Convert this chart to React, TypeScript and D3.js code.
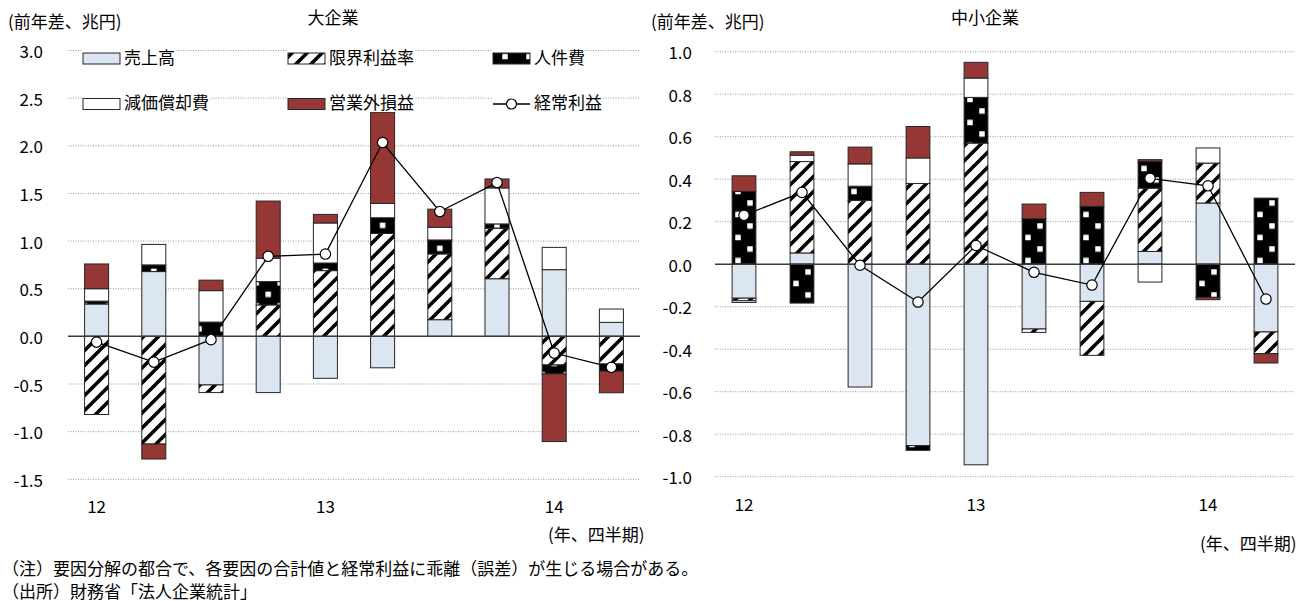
import React, { useEffect, useRef } from 'react';
import * as d3 from 'd3';

// Quarters 2012Q1 – 2014Q2
const quarters = ['12Q1', '12Q2', '12Q3', '12Q4', '13Q1', '13Q2', '13Q3', '13Q4', '14Q1', '14Q2'];
const yearTickIndex = [0, 4, 8];
const yearTickText = ['12', '13', '14'];

const seriesKeys = ['sales', 'margin', 'personnel', 'depreciation', 'nonop'];
const seriesNames = ['売上高', '限界利益率', '人件費', '減価償却費', '営業外損益'];
const lineName = '経常利益';

// 大企業 (前年差、兆円)
const largeSales = [0.34, 0.68, -0.51, -0.59, -0.44, -0.33, 0.175, 0.605, 0.7, 0.147];
const largeMargin = [-0.82, -1.13, -0.08, 0.33, 0.69, 1.08, 0.69, 0.53, -0.3, -0.29];
const largePersonnel = [0.03, 0.07, 0.15, 0.245, 0.08, 0.165, 0.147, 0.045, -0.094, -0.075];
const largeDepreciation = [0.13, 0.215, 0.33, 0.245, 0.42, 0.15, 0.133, 0.378, 0.234, 0.14];
const largeNonop = [0.26, -0.157, 0.11, 0.6, 0.09, 0.957, 0.19, 0.094, -0.71, -0.227];
const largeOrdinary = [-0.06, -0.27, -0.035, 0.84, 0.864, 2.034, 1.31, 1.614, -0.175, -0.325];

// 中小企業 (前年差、兆円)
const smeSales = [-0.16, 0.053, -0.578, -0.854, -0.944, -0.305, -0.175, 0.06, 0.288, -0.319];
const smeMargin = [-0.012, 0.43, 0.3, 0.38, 0.57, -0.016, -0.254, 0.298, 0.188, -0.102];
const smePersonnel = [0.343, -0.183, 0.067, -0.022, 0.215, 0.214, 0.272, 0.126, -0.156, 0.311];
const smeDepreciation = [-0.008, 0.03, 0.105, 0.12, 0.091, 0, 0, -0.084, 0.071, 0];
const smeNonop = [0.073, 0.016, 0.079, 0.148, 0.074, 0.069, 0.066, 0.008, -0.011, -0.044];
const smeOrdinary = [0.23, 0.338, -0.005, -0.178, 0.088, -0.038, -0.098, 0.404, 0.369, -0.164];

const largeTicks = [3.0, 2.5, 2.0, 1.5, 1.0, 0.5, 0.0, -0.5, -1.0, -1.5];
const smeTicks = [1.0, 0.8, 0.6, 0.4, 0.2, 0.0, -0.2, -0.4, -0.6, -0.8, -1.0];

const unitText = '(前年差、兆円)';
const periodText = '(年、四半期)';
const noteText = '（注）要因分解の都合で、各要因の合計値と経常利益に乖離（誤差）が生じる場合がある。';
const sourceText = '（出所）財務省「法人企業統計」';

const FONT = "'Noto Sans CJK JP', 'Noto Sans', sans-serif";
const FS = 17;
const BLUE = '#DCE6F2';
const RED = '#953735';
const EDGE = '#262626';
const HATCH = 15;

type Panel = {
  id: string;
  title: string;
  titleX: number;
  unitX: number;
  values: number[][];
  ordinary: number[];
  ticks: number[];
  yDomain: [number, number];
  yRange: [number, number];
  xRange: [number, number];
  paddingInner: number;
  tickRight: number;
  yearY: number;
  periodX: number;
  periodY: number;
  sqDx: number;
  sqDy: number;
};

const panels: Panel[] = [
  {
    id: 'large', title: '大企業', titleX: 333, unitX: 8,
    values: [largeSales, largeMargin, largePersonnel, largeDepreciation, largeNonop],
    ordinary: largeOrdinary, ticks: largeTicks,
    yDomain: [-1.5, 3.0], yRange: [479.3, 50.5], xRange: [68, 640], paddingInner: 0.58,
    tickRight: 43, yearY: 505, periodX: 548, periodY: 533, sqDx: 0, sqDy: 4,
  },
  {
    id: 'sme', title: '中小企業', titleX: 985, unitX: 651,
    values: [smeSales, smeMargin, smePersonnel, smeDepreciation, smeNonop],
    ordinary: smeOrdinary, ticks: smeTicks,
    yDomain: [-1.0, 1.0], yRange: [476.7, 51.7], xRange: [715, 1295], paddingInner: 0.59,
    tickRight: 692, yearY: 503, periodX: 1200, periodY: 542, sqDx: 6, sqDy: -15.2,
  },
];

type Sel = d3.Selection<any, any, any, any>;

// black tile with staggered white squares, anchored on a given point
function squaresPattern(defs: Sel, id: string, cx: number, cy: number, dx: number) {
  const w = 24, h = 23, s = 5.5;
  const p = defs.append('pattern').attr('id', id).attr('patternUnits', 'userSpaceOnUse')
    .attr('x', cx - 12).attr('y', cy - 5.75).attr('width', w).attr('height', h);
  p.append('rect').attr('width', w).attr('height', h).attr('fill', '#000');
  const ax = 12 + dx;
  const bx = ax - 12;
  [ax - 24, ax, ax + 24].forEach((x) =>
    p.append('rect').attr('x', x - s / 2).attr('y', 5.75 - s / 2).attr('width', s).attr('height', s).attr('fill', '#fff'));
  [bx - 24, bx, bx + 24].forEach((x) =>
    p.append('rect').attr('x', x - s / 2).attr('y', 17.25 - s / 2).attr('width', s).attr('height', s).attr('fill', '#fff'));
}

function drawPanel(svg: Sel, defs: Sel, cfg: Panel) {
  const x = d3.scaleBand<string>().domain(quarters).range(cfg.xRange)
    .paddingInner(cfg.paddingInner).paddingOuter(cfg.paddingInner / 2);
  const y = d3.scaleLinear().domain(cfg.yDomain).range(cfg.yRange);
  const bw = x.bandwidth();
  const cx = (q: string) => (x(q) as number) + bw / 2;
  const y0 = y(0);

  const rows = quarters.map((q, i) => {
    const r: any = { q };
    seriesKeys.forEach((k, j) => { r[k] = cfg.values[j][i]; });
    return r;
  });
  const stacked = d3.stack<any>().keys(seriesKeys).offset(d3.stackOffsetDiverging)(rows);

  quarters.forEach((q, i) => squaresPattern(defs, `pers-${cfg.id}-${i}`, cx(q), y0 + cfg.sqDy, cfg.sqDx));

  const g = svg.append('g');

  // gridlines
  g.selectAll('line.grid').data(cfg.ticks.filter((t) => t !== 0)).enter().append('line')
    .attr('x1', cfg.xRange[0]).attr('x2', cfg.xRange[1])
    .attr('y1', (t) => y(t)).attr('y2', (t) => y(t))
    .attr('stroke', '#9a9a9a').attr('stroke-width', 1).attr('stroke-dasharray', '1 1.5');

  // tick labels
  g.selectAll('text.tick').data(cfg.ticks).enter().append('text')
    .attr('x', cfg.tickRight).attr('y', (t) => y(t))
    .attr('text-anchor', 'end').attr('dominant-baseline', 'central')
    .attr('font-family', FONT).attr('font-size', FS).attr('fill', '#000')
    .text((t) => d3.format('.1f')(t).replace('−', '-'));

  // stacked bars
  const fills = [
    () => BLUE,
    () => 'url(#hatch)',
    (i: number) => `url(#pers-${cfg.id}-${i})`,
    () => '#fff',
    () => RED,
  ];
  stacked.forEach((series, k) => {
    g.append('g').selectAll('rect').data(series.map((d, i) => ({ d, i })).filter((o) => o.d[1] !== o.d[0]))
      .enter().append('rect')
      .attr('x', (o) => x(quarters[o.i]) as number)
      .attr('width', bw)
      .attr('y', (o) => y(Math.max(o.d[0], o.d[1])))
      .attr('height', (o) => Math.abs(y(o.d[0]) - y(o.d[1])))
      .attr('fill', (o) => fills[k](o.i))
      .attr('stroke', EDGE).attr('stroke-width', 1);
  });

  // zero line
  g.append('line').attr('x1', cfg.xRange[0]).attr('x2', cfg.xRange[1])
    .attr('y1', y0).attr('y2', y0).attr('stroke', '#3a3a3a').attr('stroke-width', 1.5);

  // ordinary profit line
  const line = d3.line<number>().x((_, i) => cx(quarters[i])).y((v) => y(v));
  g.append('path').attr('d', line(cfg.ordinary) as string)
    .attr('fill', 'none').attr('stroke', '#000').attr('stroke-width', 1.3);
  g.selectAll('circle').data(cfg.ordinary).enter().append('circle')
    .attr('cx', (_, i) => cx(quarters[i])).attr('cy', (v) => y(v)).attr('r', 5.2)
    .attr('fill', '#fff').attr('stroke', '#000').attr('stroke-width', 1.2);

  // year labels
  yearTickIndex.forEach((idx, j) => {
    g.append('text').attr('x', cx(quarters[idx])).attr('y', cfg.yearY)
      .attr('text-anchor', 'middle').attr('dominant-baseline', 'central')
      .attr('font-family', FONT).attr('font-size', FS).text(yearTickText[j]);
  });

  // titles and units
  g.append('text').attr('x', cfg.titleX).attr('y', 16).attr('text-anchor', 'middle')
    .attr('dominant-baseline', 'central').attr('font-family', FONT).attr('font-size', FS).text(cfg.title);
  g.append('text').attr('x', cfg.unitX).attr('y', 20).attr('dominant-baseline', 'central')
    .attr('font-family', FONT).attr('font-size', FS).text(unitText);
  g.append('text').attr('x', cfg.periodX).attr('y', cfg.periodY).attr('dominant-baseline', 'central')
    .attr('font-family', FONT).attr('font-size', FS).text(periodText);
}

function drawLegend(svg: Sel, defs: Sel) {
  const colX = [83, 288, 493];
  const rowY = [53, 98.5];
  const sw = 37, sh = 11;
  const lg = svg.append('g');
  squaresPattern(defs, 'pers-legend', colX[2] + 18, rowY[0] + 15, 6);
  const fills = [BLUE, 'url(#hatch)', 'url(#pers-legend)', '#fff', RED];
  const items = seriesNames.map((name, i) => ({ name, fill: fills[i] as string | null, col: i % 3, row: Math.floor(i / 3) }));
  items.push({ name: lineName, fill: null, col: 2, row: 1 });

  items.forEach((it) => {
    const sx = colX[it.col];
    const sy = rowY[it.row];
    const bg = lg.append('rect').attr('fill', '#fff');
    const t = lg.append('text').attr('x', sx + sw + 4).attr('y', sy + sh / 2 - 2.5)
      .attr('dominant-baseline', 'central').attr('font-family', FONT).attr('font-size', FS).text(it.name);
    const bb = (t.node() as SVGTextElement).getBBox();
    bg.attr('x', sx).attr('y', bb.y + 2).attr('width', bb.x + bb.width - sx).attr('height', bb.height - 4);
    if (it.fill) {
      lg.append('rect').attr('x', sx).attr('y', sy).attr('width', sw).attr('height', sh)
        .attr('fill', it.fill).attr('stroke', EDGE).attr('stroke-width', 1);
    } else {
      lg.append('line').attr('x1', sx).attr('x2', sx + sw).attr('y1', sy + sh / 2).attr('y2', sy + sh / 2)
        .attr('stroke', '#000').attr('stroke-width', 1.3);
      lg.append('circle').attr('cx', sx + sw / 2).attr('cy', sy + sh / 2).attr('r', 5)
        .attr('fill', '#fff').attr('stroke', '#000').attr('stroke-width', 1.2);
    }
  });
}

export default function App() {
  const ref = useRef<SVGSVGElement>(null);
  useEffect(() => {
    const svg = d3.select(ref.current);
    svg.selectAll('*').remove();
    const defs = svg.append('defs');
    const hatch = defs.append('pattern').attr('id', 'hatch').attr('patternUnits', 'userSpaceOnUse')
      .attr('width', HATCH).attr('height', HATCH);
    hatch.append('rect').attr('width', HATCH).attr('height', HATCH).attr('fill', '#fff');
    hatch.append('path')
      .attr('d', `M${-HATCH / 2},${HATCH / 2} L${HATCH / 2},${-HATCH / 2} M0,${HATCH} L${HATCH},0 M${HATCH / 2},${HATCH * 1.5} L${HATCH * 1.5},${HATCH / 2}`)
      .attr('stroke', '#000').attr('stroke-width', 3.6);

    panels.forEach((p) => drawPanel(svg, defs, p));
    drawLegend(svg, defs);

    svg.append('text').attr('x', 2).attr('y', 567).attr('dominant-baseline', 'central')
      .attr('font-family', FONT).attr('font-size', FS).text(noteText);
    svg.append('text').attr('x', 2).attr('y', 590).attr('dominant-baseline', 'central')
      .attr('font-family', FONT).attr('font-size', FS).text(sourceText);
  }, []);
  return (
    <svg ref={ref} width={1308} height={601}
      style={{ position: 'absolute', left: 0, top: 0, background: '#fff', display: 'block' }} />
  );
}
